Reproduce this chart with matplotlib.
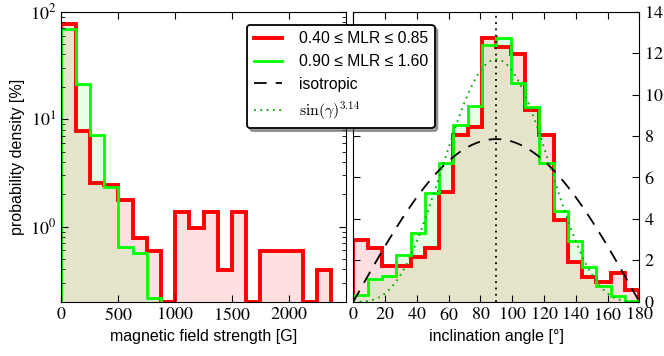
import numpy as np
import matplotlib
matplotlib.use("Agg")
import matplotlib.pyplot as plt
from matplotlib.lines import Line2D
from matplotlib.ticker import LogLocator, NullFormatter, MultipleLocator, FuncFormatter, FixedLocator

plt.rcParams['font.family'] = ['STIXGeneral', 'Liberation Serif', 'DejaVu Serif']
plt.rcParams['mathtext.fontset'] = 'stix'

# ---------------- data ----------------
# magnetic field strength histogram (bin width 125 G), probability density [%]
field_edges_red = np.arange(0, 2375 + 1, 125)
field_red = [76.4, 7.8, 2.57, 2.42, 1.78, 0.78, 0.59, 0.0, 1.36, 0.98,
             1.36, 0.395, 1.36, 0.0, 0.59, 0.59, 0.59, 0.0, 0.395]
field_edges_green = np.arange(0, 875 + 1, 125)
field_green = [68.6, 21.2, 7.15, 2.33, 0.64, 0.565, 0.216]

# inclination angle histogram (bin width 9 deg)
incl_edges = np.arange(0, 180 + 1, 9)
incl_red = [2.98, 2.57, 1.74, 1.74, 2.17, 2.57, 5.28, 8.05, 8.45, 12.71,
            12.31, 11.96, 9.25, 8.05, 3.94, 1.93, 1.21, 0.97, 1.37, 0.56]
incl_green = [0.32, 1.08, 1.24, 2.25, 3.33, 5.23, 6.68, 8.53, 9.45, 12.39,
              12.71, 10.54, 9.38, 6.68, 4.39, 2.94, 1.69, 0.76, 0.27, 0.05]

iso_peak = 7.85      # isotropic model peak (per 9 deg bin)
sin_peak = 11.7      # sin^p model peak
sin_power = 3.14

field_ticks = [0, 500, 1000, 1500, 2000]
log_ticks = [1, 10, 100]

labels = ['0.40 ≤ MLR ≤ 0.85', '0.90 ≤ MLR ≤ 1.60',
          'isotropic', r'$\sin(\gamma)^{3.14}$']

RED = '#ff0000'
GREEN = '#00ff00'
SANS = ['Liberation Sans', 'DejaVu Sans']
TICKSIZE = 13

fig = plt.figure(figsize=(6.64, 3.56), dpi=100)
ax1 = fig.add_axes([0.0926, 0.1525, 0.4280, 0.8146])
ax2 = fig.add_axes([0.5321, 0.1525, 0.4307, 0.8146])

num_fmt = FuncFormatter(lambda v, p: r'$%d$' % round(v))

# ---------------- left panel ----------------
ymin = 0.2
fr = np.array(field_red)
fg = np.array(field_green)
ax1.stairs(fr, field_edges_red, baseline=1e-3, fill=True, color=RED, alpha=0.12, lw=0)
ax1.stairs(fg, field_edges_green, baseline=1e-3, fill=True, color=GREEN, alpha=0.10, lw=0)
ax1.stairs(np.where(fr > 0, fr, ymin), field_edges_red, baseline=ymin, color=RED, lw=2.8)
ax1.stairs(np.where(fg > 0, fg, ymin), field_edges_green, baseline=ymin, color=GREEN, lw=2.0)
ax1.set_yscale('log')
ax1.set_xlim(0, 2500)
ax1.set_ylim(ymin, 100)
ax1.xaxis.set_major_locator(FixedLocator(field_ticks))
ax1.xaxis.set_major_formatter(num_fmt)
ax1.yaxis.set_major_locator(FixedLocator(log_ticks))
ax1.yaxis.set_major_formatter(FuncFormatter(lambda v, p: r'$10^{%d}$' % round(np.log10(v))))
ax1.yaxis.set_minor_locator(LogLocator(base=10, subs=np.arange(2, 10)))
ax1.yaxis.set_minor_formatter(NullFormatter())
ax1.tick_params(which='both', direction='in', top=True, right=True, labelsize=TICKSIZE)
ax1.tick_params(which='major', length=5)
ax1.tick_params(which='minor', length=3)
ax1.set_xlabel('magnetic field strength [G]', family=SANS, fontsize=11.5)
ax1.set_ylabel('probability density [%]', family=SANS, fontsize=11.5)

# ---------------- right panel ----------------
ir = np.array(incl_red)
ig = np.array(incl_green)
ax2.stairs(ir, incl_edges, baseline=0, fill=True, color=RED, alpha=0.12, lw=0)
ax2.stairs(ig, incl_edges, baseline=0, fill=True, color=GREEN, alpha=0.10, lw=0)
ax2.stairs(ir, incl_edges, baseline=0, color=RED, lw=2.8)
ax2.stairs(ig, incl_edges, baseline=0, color=GREEN, lw=2.0)

g = np.linspace(0, 180, 361)
ax2.plot(g, iso_peak * np.sin(np.radians(g)), color='black', lw=1.3, ls=(0, (7, 5)))
ax2.plot(g, sin_peak * np.sin(np.radians(g)) ** sin_power, color='#00aa00', lw=1.3, ls=(0, (1, 2.5)))
ax2.axvline(90, color='black', lw=1.3, ls=(0, (1, 2.5)))

ax2.set_xlim(0, 180)
ax2.set_ylim(0, 14)
ax2.xaxis.set_major_locator(MultipleLocator(20))
ax2.yaxis.set_major_locator(MultipleLocator(2))
ax2.xaxis.set_major_formatter(num_fmt)
ax2.yaxis.set_major_formatter(num_fmt)
ax2.tick_params(which='both', direction='in', top=True, left=True, right=True,
                labelleft=False, labelright=True, length=5, labelsize=TICKSIZE)
ax2.set_xlabel('inclination angle [°]', family=SANS, fontsize=11.5)

# ---------------- legend ----------------
handles = [Line2D([], [], color=RED, lw=2.8),
           Line2D([], [], color=GREEN, lw=2.0),
           Line2D([], [], color='black', lw=1.3, ls=(0, (7, 5))),
           Line2D([], [], color='#00aa00', lw=1.3, ls=(0, (1, 2.5)))]
leg = fig.legend(handles, labels, loc='upper left',
                 bbox_to_anchor=(247.3 / 664, 1 - 25 / 356), borderaxespad=0,
                 fancybox=True, shadow=True, framealpha=1, edgecolor='black',
                 prop={'family': SANS, 'size': 11.3},
                 handlelength=1.8, handletextpad=1.1, labelspacing=0.5, borderpad=0.4)
leg.get_frame().set_linewidth(1.3)
leg.get_texts()[3].set_math_fontfamily('cm')

fig.savefig('out.png', dpi=100)
